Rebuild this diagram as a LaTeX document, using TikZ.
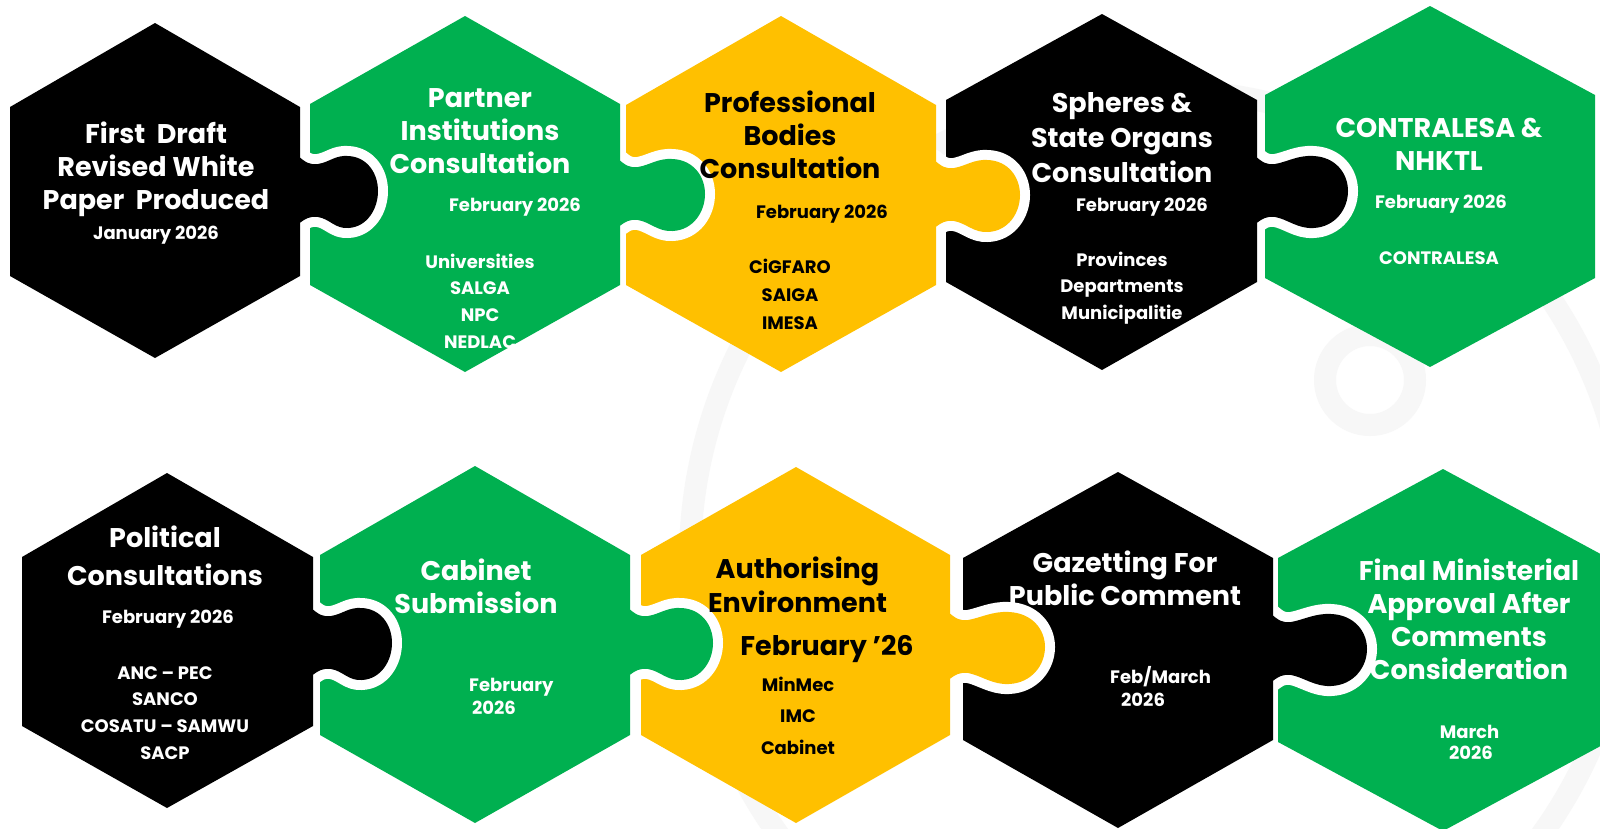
\documentclass[tikz,border=0pt]{standalone}
\usepackage{fontspec}
\setmainfont{Poppins}
\definecolor{pgreen}{HTML}{00B050}
\definecolor{pyellow}{HTML}{FFC000}
\definecolor{pblack}{HTML}{000000}
\definecolor{wmark}{HTML}{F7F7F7}
\tikzset{
  ttl/.style={font=\fontsize{27}{33}\selectfont\bfseries, inner sep=0pt},
  sml/.style={font=\fontsize{18}{22}\selectfont\bfseries, inner sep=0pt},
  wt/.style={text=white},
  bk/.style={text=black},
  tabline/.style={draw=white, line width=20pt, line cap=round, line join=round},
  wmline/.style={draw=wmark, line width=22pt},
}
% hexagon: left, right, top, bottom, side-top, side-bottom, centre x, colour
\newcommand\phex[8]{%
  \fill[#8] (#7,#3) -- (#2,#5) -- (#2,#6) -- (#7,#4) -- (#1,#6) -- (#1,#5) -- cycle;}
% puzzle tab: x of edge, centre y, length
\newcommand\tabcurve[3]{({#1-3},{#2-36}) .. controls ({#1+6},{#2-28}) and ({#1+10},{#2-26}) .. ({#1+18},{#2-27})
 .. controls ({#1+30},{#2-29}) and ({#1+0.45*#3},{#2-36}) .. ({#1+0.62*#3},{#2-35})
 .. controls ({#1+0.86*#3},{#2-34}) and ({#1+#3},{#2-18}) .. ({#1+#3},{#2})
 .. controls ({#1+#3},{#2+18}) and ({#1+0.86*#3},{#2+36}) .. ({#1+0.62*#3},{#2+37})
 .. controls ({#1+0.45*#3},{#2+38}) and ({#1+30},{#2+28}) .. ({#1+18},{#2+26})
 .. controls ({#1+10},{#2+25}) and ({#1+6},{#2+27}) .. ({#1-3},{#2+34})}
\newcommand\ptab[4]{%
  \path[tabline] \tabcurve{#1}{#2}{#3};
  \fill[#4] \tabcurve{#1}{#2}{#3} -- ({#1-25},{#2+34}) -- ({#1-25},{#2-36}) -- cycle;}
% text lines: name, x, first baseline, spacing, style, list
\newcommand\tlines[6]{%
  \foreach \tx [count=\ti] in {#6}{\node[#5, anchor=base] (#1-\ti) at ({#2},{#3+(\ti-1)*#4}) {\tx};}}
\begin{document}
\begin{tikzpicture}[x=1pt,y=-1pt]
\useasboundingbox (0,0) rectangle (1600,828);
\fill[white] (0,0) rectangle (1600,828);
% ---------- faint watermark ----------
\draw[wmline] (1160,560) circle (470);
\draw[wmline] (1370,380) circle (45);
% ---------- top row ----------
\phex{1265}{1595}{6}{367}{95}{278}{1430}{pgreen}
\ptab{1257}{191}{91}{pblack}
\phex{946}{1257}{14}{370}{100}{282}{1102}{pblack}
\ptab{936}{195}{84}{pyellow}
\phex{626}{936}{16}{372}{105}{285}{781}{pyellow}
\ptab{620}{194}{85}{pgreen}
\phex{310}{620}{16}{372}{104}{285}{465}{pgreen}
\ptab{300}{191}{78}{pblack}
\phex{10}{300}{23}{358}{107}{276}{155}{pblack}
% ---------- bottom row ----------
\phex{1278}{1608}{469}{831}{558}{742}{1443}{pgreen}
\ptab{1273}{649}{94}{pblack}
\phex{963}{1273}{472}{828}{558}{740}{1118}{pblack}
\ptab{950}{647}{95}{pyellow}
\phex{641}{950}{467}{823}{555}{735}{796}{pyellow}
\ptab{630}{643}{83}{pgreen}
\phex{320}{630}{466}{823}{555}{735}{475}{pgreen}
\ptab{313}{643}{79}{pblack}
\phex{22}{313}{473}{808}{557}{726}{167}{pblack}
% ---------- texts ----------
\tlines{h1t}{156}{143}{33}{ttl,wt}{First~~Draft,Revised White,Paper~~Produced}
\node[sml,wt,anchor=base] (h1d) at (156,239) {January 2026};
\tlines{h2t}{480}{107}{33}{ttl,wt}{Partner,Institutions,Consultation}
\node[sml,wt,anchor=base] (h2d) at (515,211) {February 2026};
\tlines{h2l}{480}{268}{26.7}{sml,wt}{Universities,SALGA,NPC,NEDLAC}
\tlines{h3t}{790}{112}{33}{ttl,bk}{Professional,Bodies,Consultation}
\node[sml,bk,anchor=base] (h3d) at (822,218) {February 2026};
\tlines{h3l}{790}{273}{28}{sml,bk}{CiGFARO,SAIGA,IMESA}
\tlines{h4t}{1122}{112}{35}{ttl,wt}{Spheres \&,State Organs,Consultation}
\node[sml,wt,anchor=base] (h4d) at (1142,211) {February 2026};
\tlines{h4l}{1122}{266}{26.5}{sml,wt}{Provinces,Departments,Municipalitie}
\tlines{h5t}{1439}{137}{33}{ttl,wt}{CONTRALESA \&,NHKTL}
\node[sml,wt,anchor=base] (h5d) at (1441,208) {February 2026};
\node[sml,wt,anchor=base] (h5l) at (1439,264) {CONTRALESA};
\tlines{h6t}{165}{547}{38}{ttl,wt}{Political,Consultations}
\node[sml,wt,anchor=base] (h6d) at (168,623) {February 2026};
\tlines{h6l}{165}{679}{26.7}{sml,wt}{ANC – PEC,SANCO,COSATU – SAMWU,SACP}
\tlines{h7t}{476}{580}{33}{ttl,wt}{Cabinet,Submission}
\node[sml,wt,anchor=base west] (h7d) at (469,691) {February};
\node[sml,wt,anchor=base west] (h7y) at (472,714) {2026};
\tlines{h8t}{797.5}{578}{34}{ttl,bk}{Authorising,Environment}
\node[ttl,bk,anchor=base] (h8d) at (827,655) {February ’26};
\tlines{h8l}{798}{691}{31.5}{sml,bk}{MinMec,IMC,Cabinet}
\tlines{h9t}{1125}{572}{33}{ttl,wt}{Gazetting For,Public Comment}
\node[sml,wt,anchor=base west] (h9d) at (1110,683) {Feb/March};
\node[sml,wt,anchor=base west] (h9y) at (1121,706) {2026};
\tlines{h10t}{1469}{580}{33.3}{ttl,wt}{Final Ministerial,Approval After,Comments,Consideration}
\node[sml,wt,anchor=base] (h10d) at (1469.5,738) {March};
\node[sml,wt,anchor=base] (h10y) at (1471,759) {2026};
\end{tikzpicture}
\end{document}
